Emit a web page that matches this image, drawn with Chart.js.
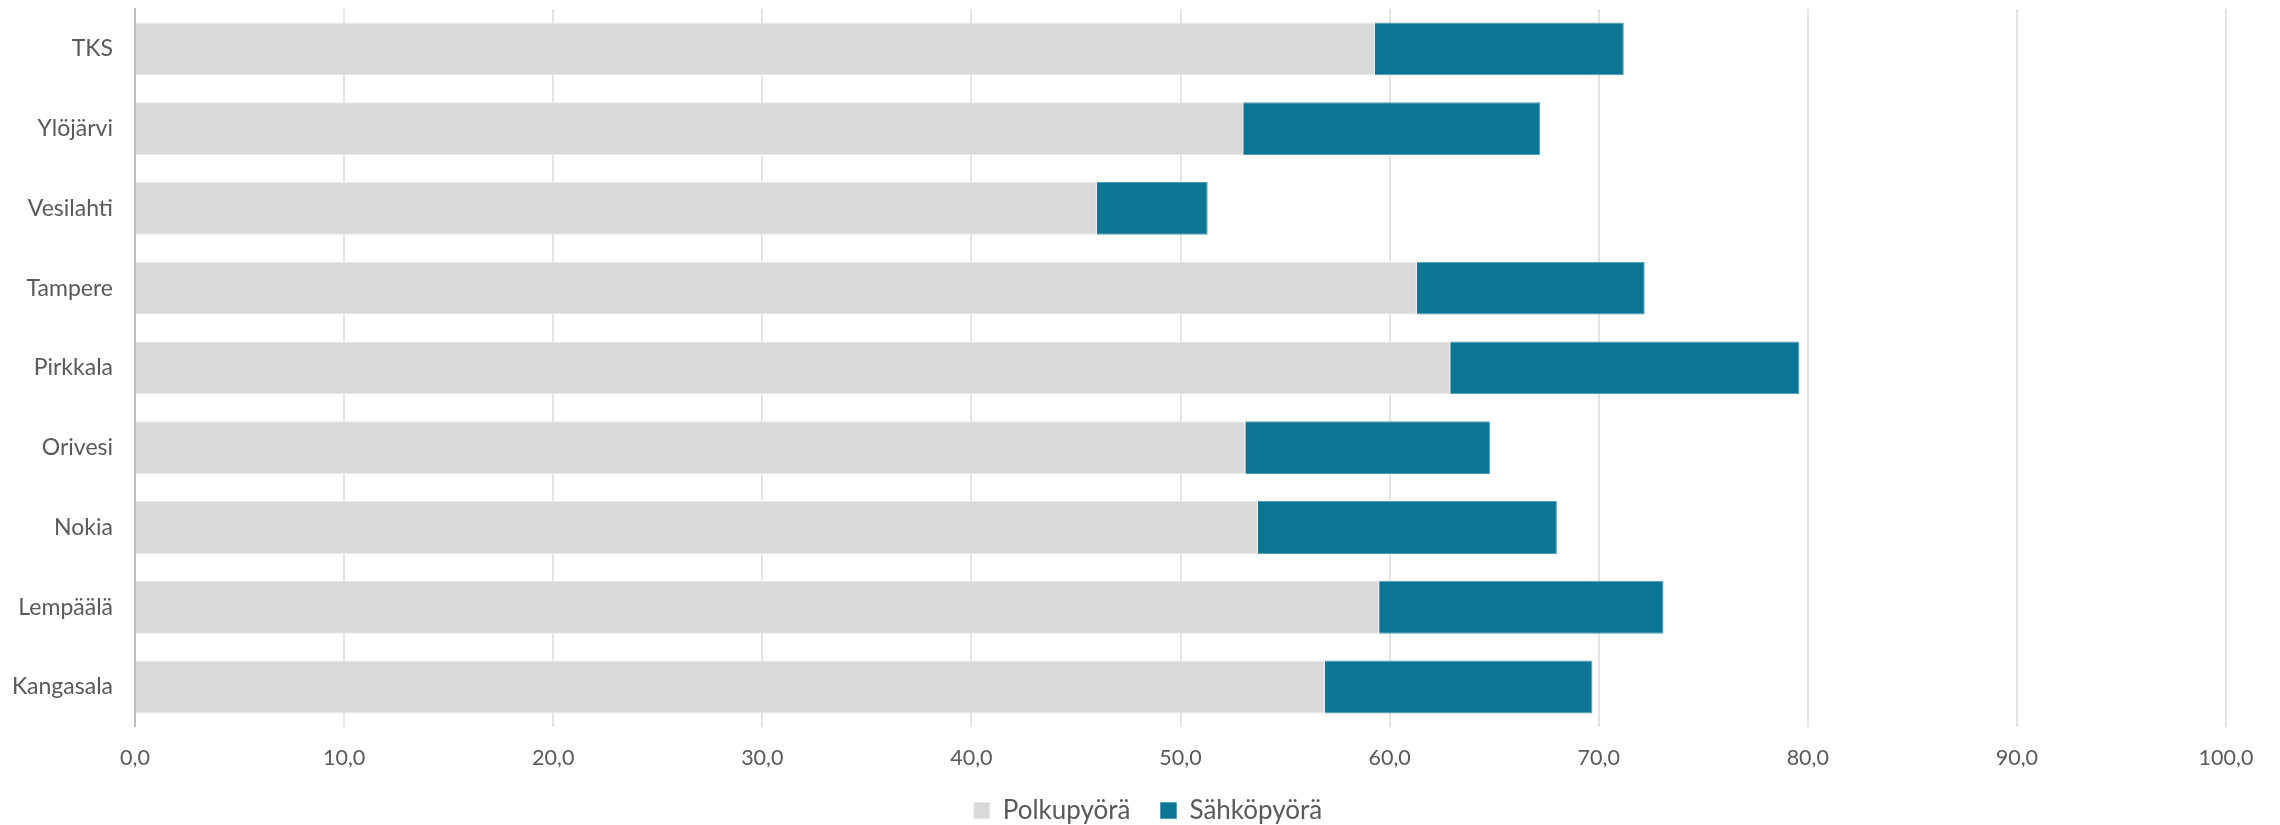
<!DOCTYPE html>
<html>
<head>
<meta charset="utf-8">
<script src="https://cdn.jsdelivr.net/npm/chart.js@4/dist/chart.umd.min.js"></script>
<style>
  html, body { margin: 0; padding: 0; background: #fff; overflow: hidden; }
  #wrap { width: 2280px; height: 840px; }
</style>
</head>
<body>
<div id="wrap"><canvas id="bikes"></canvas></div>
<script>
const kunnat = ['TKS', 'Ylöjärvi', 'Vesilahti', 'Tampere', 'Pirkkala', 'Orivesi', 'Nokia', 'Lempäälä', 'Kangasala'];
const polkupyora = [59.3, 53.0, 46.0, 61.3, 62.9, 53.1, 53.7, 59.5, 56.9];
const sahkopyora = [11.9, 14.2, 5.3, 10.9, 16.7, 11.7, 14.3, 13.6, 12.8];
const xTicks = [0, 10, 20, 30, 40, 50, 60, 70, 80, 90, 100];

const txt = '#595959';
const fam = 'Lato, Carlito, Calibri, sans-serif';

// legend sits centred on the whole picture in the original, nudge it right
const legendShift = {
    id: 'legendShift',
    afterLayout: function(chart) {
        if (chart.legend) {
            chart.legend.left += 35;
            chart.legend.right += 35;
        }
    }
};

const ctx = document.getElementById('bikes').getContext('2d');
const myChart = new Chart(ctx, {
    type: 'bar',
    data: {
        labels: kunnat,
        datasets: [
            {
                label: 'Polkupyörä',
                data: polkupyora,
                backgroundColor: '#D9D9D9',
                borderColor: '#EBEBEB',
                borderWidth: 1,
                categoryPercentage: 1,
                barPercentage: 0.662
            },
            {
                label: 'Sähköpyörä',
                data: sahkopyora,
                backgroundColor: '#0B7593',
                borderColor: '#4E9DB5',
                borderWidth: 1,
                categoryPercentage: 1,
                barPercentage: 0.662
            }
        ]
    },
    options: {
        indexAxis: 'y',
        responsive: true,
        maintainAspectRatio: false,
        animation: false,
        layout: {
            padding: { top: 9, right: 54, bottom: 6.4, left: 0 }
        },
        scales: {
            x: {
                stacked: true,
                min: 0,
                max: 100,
                afterBuildTicks: function(scale) {
                    scale.ticks = xTicks.map(v => ({ value: v }));
                },
                afterFit: function(scale) { scale.height = 40.7; },
                grid: { color: '#E4E4E4', lineWidth: 2, drawTicks: false },
                border: { display: false },
                ticks: {
                    padding: 18.7,
                    color: txt,
                    font: { family: fam, size: 21.5 },
                    callback: v => v.toFixed(1).replace('.', ',')
                }
            },
            y: {
                stacked: true,
                afterFit: function(scale) {
                    scale.width = 135;
                    // keep the category labels from pushing the plot down
                    scale.paddingTop = 0;
                    scale.paddingBottom = 0;
                },
                grid: { display: false, drawTicks: false },
                border: { display: true, color: '#BFBFBF', width: 2 },
                ticks: {
                    padding: 22,
                    color: txt,
                    font: { family: fam, size: 23 }
                }
            }
        },
        plugins: {
            legend: {
                position: 'bottom',
                labels: {
                    boxWidth: 16,
                    boxHeight: 16,
                    padding: 30,
                    color: txt,
                    font: { family: fam, size: 26 }
                }
            },
            tooltip: { enabled: false }
        }
    },
    plugins: [legendShift]
});
</script>
</body>
</html>
